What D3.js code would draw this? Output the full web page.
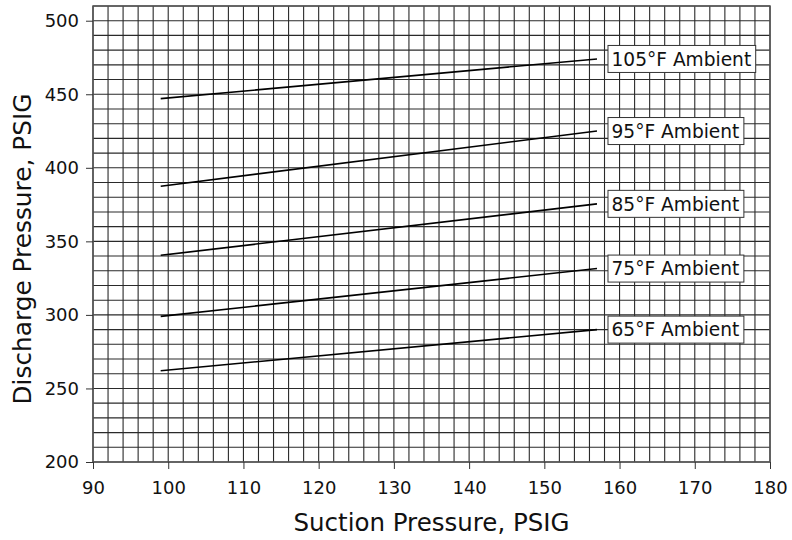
<!DOCTYPE html>
<html><head><meta charset="utf-8">
<script src="https://cdn.jsdelivr.net/npm/d3@7"></script>
<style>body{margin:0;background:#fff}svg{display:block}text{font-family:"DejaVu Sans",Verdana,sans-serif;fill:#111}</style>
</head><body><svg id="c" width="792" height="540"></svg>
<script>
const seriesNames = ["105°F Ambient","95°F Ambient","85°F Ambient","75°F Ambient","65°F Ambient"];
const suctionStart = [99,99,99,99,99];
const suctionEnd = [157,157,157,157,157];
const dischargeStart = [447,387.5,340.5,299,262];
const dischargeEnd = [474,425,375.5,331.5,290];
const xTicks = [90,100,110,120,130,140,150,160,170,180];
const yTicks = [200,250,300,350,400,450,500];

const svg = d3.select("#c");
const m = {l:93, r:770, t:6, b:462};
const x = d3.scaleLinear().domain([90,180]).range([m.l,m.r]);
const y = d3.scaleLinear().domain([200,510]).range([m.b,m.t]);

const g = svg.append("g");
// grid
g.selectAll("line.vx").data(d3.range(90,181,2)).join("line")
  .attr("x1",d=>x(d)).attr("x2",d=>x(d)).attr("y1",y(200)).attr("y2",y(510))
  .attr("stroke","#2a2a2a").attr("stroke-width",1.1);
g.selectAll("line.hy").data(d3.range(200,511,10)).join("line")
  .attr("y1",d=>y(d)).attr("y2",d=>y(d)).attr("x1",x(90)).attr("x2",x(180))
  .attr("stroke","#2a2a2a").attr("stroke-width",1.1);
g.append("rect").attr("x",x(90)).attr("y",y(510)).attr("width",x(180)-x(90)).attr("height",y(200)-y(510))
  .attr("fill","none").attr("stroke","#555").attr("stroke-width",1.5);

// axes
const xa = svg.append("g").attr("transform",`translate(0,${y(200)})`)
  .call(d3.axisBottom(x).tickValues(xTicks).tickSize(7).tickPadding(12));
const ya = svg.append("g").attr("transform",`translate(${x(90)},0)`)
  .call(d3.axisLeft(y).tickValues(yTicks).tickSize(7).tickPadding(7));
[xa,ya].forEach(a=>{a.select(".domain").remove();a.selectAll("line").attr("stroke","#333");
  a.selectAll("text").attr("font-size",18).attr("font-family","DejaVu Sans, Verdana, sans-serif").attr("fill","#111");});

// lines
const data = seriesNames.map((n,i)=>({name:n,pts:[[suctionStart[i],dischargeStart[i]],[suctionEnd[i],dischargeEnd[i]]]}));
const line = d3.line().x(d=>x(d[0])).y(d=>y(d[1]));
svg.selectAll("path.s").data(data).join("path").attr("d",d=>line(d.pts))
  .attr("fill","none").attr("stroke","#000").attr("stroke-width",1.6);

// labels
data.forEach(d=>{
  const lx = x(d.pts[1][0]) + 11, ly = y(d.pts[1][1]);
  const lg = svg.append("g");
  const t = lg.append("text").attr("x",lx+3.5).attr("y",ly).attr("dy","0.36em").attr("font-size",18.6).text(d.name);
  const bb = t.node().getBBox();
  lg.insert("rect","text").attr("x",bb.x-3.5).attr("y",ly-13.5).attr("width",bb.width+8).attr("height",27)
    .attr("fill","#fff").attr("stroke","#333").attr("stroke-width",1);
});

// titles
svg.append("text").attr("x",(x(90)+x(180))/2).attr("y",531).attr("text-anchor","middle").attr("font-size",24.5).text("Suction Pressure, PSIG");
svg.append("text").attr("transform",`translate(31,${(y(200)+y(510))/2+15}) rotate(-90)`).attr("text-anchor","middle").attr("font-size",24.8).text("Discharge Pressure, PSIG");
</script></body></html>
